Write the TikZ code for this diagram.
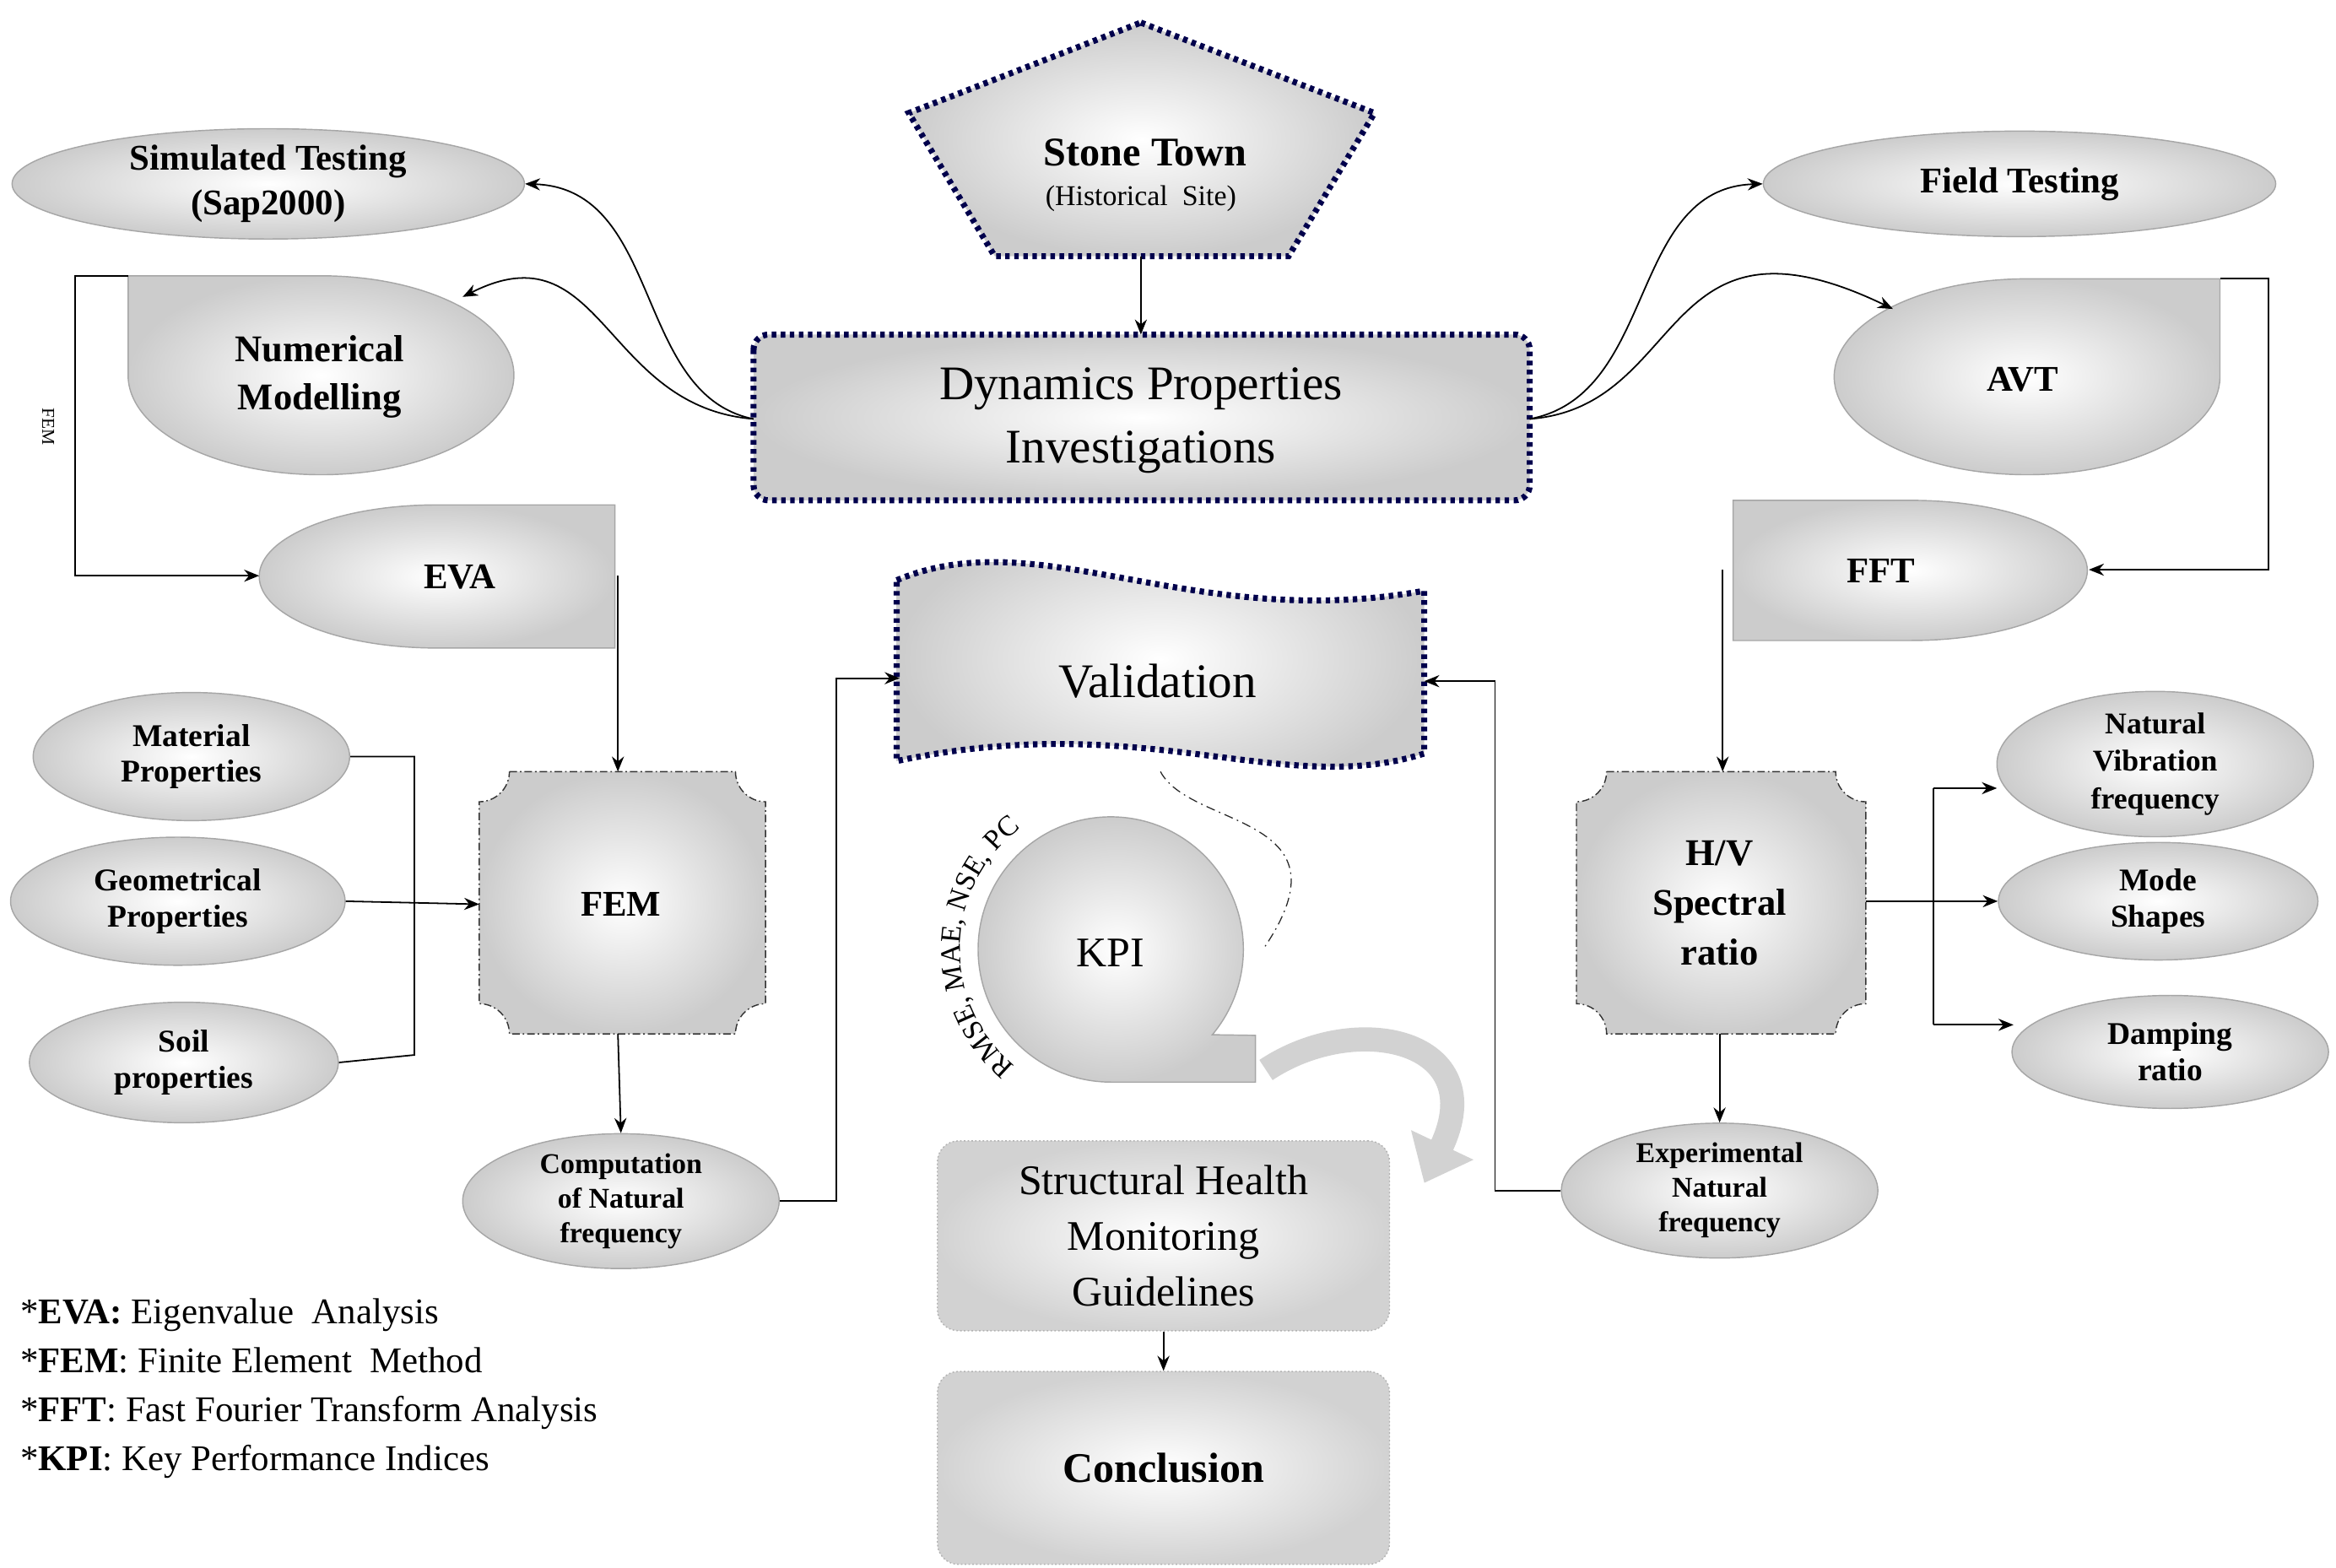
\documentclass[tikz,border=0pt]{standalone}
\usepackage{fontspec}
\setmainfont{Liberation Serif}
\usetikzlibrary{shapes.geometric,arrows.meta,decorations.text}
\newcommand\fs[2]{\fontsize{#1}{#2}\selectfont}
\newcommand\cornbox[5]{% x1 y1 x2 y2 r
 \path[cbox] (#1+#5,#2) -- (#3-#5,#2) arc[start angle=180,end angle=90,radius=#5]
  -- (#3,#4-#5) arc[start angle=-90,end angle=-180,radius=#5]
  -- (#1+#5,#4) arc[start angle=0,end angle=-90,radius=#5]
  -- (#1,#2+#5) arc[start angle=90,end angle=0,radius=#5] -- cycle;}
\begin{document}
\begin{tikzpicture}[x=1pt,y=-1pt,
 gfill/.style={inner color=white,outer color=gray!40},
 ell/.style={ellipse,draw=gray!70,line width=0.8pt,gfill,font=\bfseries\fs{21}{24},align=center,inner sep=0pt},
 cbox/.style={draw=black!80,dash pattern=on 5pt off 2pt on 1pt off 2pt,line width=0.8pt,gfill},
 dotb/.style={draw=blue!30!black,line width=4pt,dash pattern=on 3pt off 3pt},
 gbox/.style={rounded corners=14pt,draw=gray!60,dash pattern=on 1pt off 1.5pt,line width=0.8pt,inner color=white,outer color=gray!35},
 arr/.style={-{Stealth[length=10pt,width=8pt]},line width=1pt},
 ln/.style={line width=1pt}]
\useasboundingbox (0,0) rectangle (1550,1040);

% Stone Town pentagon
\path[dotb,gfill] (757,15) -- (912,75) -- (855,170) -- (660,170) -- (603,75) -- cycle;
\node[font=\bfseries\fs{27}{30}] (st) at (760,101) {Stone Town};
\node[font=\fs{19}{22}] (st2) at (757,132) {(Historical\ \ Site)};
\coordinate (stb) at (757,170);
% Dynamics
\path[dotb,rounded corners=10pt,gfill] (500,222) rectangle (1015,332);
\node[align=center,font=\fs{32}{42}] (dyn) at (757,279) {Dynamics Properties\\Investigations};
\coordinate (dynt) at (757,222);
\coordinate (dynl) at (500,278);
\coordinate (dynr) at (1015,278);
\draw[arr] (stb) -- (dynt);

% top ellipses
\node[ell,minimum width=340pt,minimum height=70pt,font=\bfseries\fs{24}{30}] (sim) at (178,122) {Simulated Testing\\(Sap2000)};
\node[ell,minimum width=340pt,minimum height=70pt,font=\bfseries\fs{24}{30}] (field) at (1340,122) {Field Testing};

% Numerical Modelling
\path[gfill,draw=gray!70,line width=0.8pt] (85,183) -- (213,183) arc[start angle=-90,end angle=180,x radius=128,y radius=66] -- cycle;
\node[font=\bfseries\fs{25}{32},align=center] (num) at (212,250) {Numerical\\Modelling};
% AVT
\path[gfill,draw=gray!70,line width=0.8pt] (1473,185) -- (1345,185) arc[start angle=-90,end angle=-360,x radius=128,y radius=65] -- cycle;
\node[font=\bfseries\fs{24}{28}] (avt) at (1342,252) {AVT};
% EVA
\path[gfill,draw=gray!70,line width=0.8pt] (408,335) -- (290,335) arc[start angle=-90,end angle=-270,x radius=118,y radius=47.5] -- (408,430) -- cycle;
\node[font=\bfseries\fs{24}{28}] (eva) at (305,383) {EVA};
% FFT
\path[gfill,draw=gray!70,line width=0.8pt] (1150,332) -- (1268,332) arc[start angle=-90,end angle=90,x radius=117,y radius=46.5] -- (1150,425) -- cycle;
\node[font=\bfseries\fs{24}{28}] (fft) at (1248,379) {FFT};

% Validation
\path[dotb,gfill] (595,385) .. controls (690,345) and (790,420) .. (945,392) -- (945,500) .. controls (850,530) and (760,470) .. (595,505) -- cycle;
\node[font=\fs{32}{36}] (val) at (768,452) {Validation};
\coordinate (vall) at (597,450);
\coordinate (valr) at (945,452);
\coordinate (valb) at (770,512);

% FEM and H/V
\cornbox{318}{512}{508}{686}{20}
\node[font=\bfseries\fs{24}{28}] (fem) at (412,600) {FEM};
\cornbox{1046}{512}{1238}{686}{20}
\node[font=\bfseries\fs{25}{33},align=center] (hv) at (1141,599) {H/V\\Spectral\\ratio};

% left ellipses
\node[ell,minimum width=210pt,minimum height=85pt] (mat) at (127,502) {Material\\Properties};
\node[ell,minimum width=222pt,minimum height=85pt] (geo) at (118,598) {Geometrical\\Properties};
\node[ell,minimum width=205pt,minimum height=80pt] (soil) at (122,705) {Soil\\properties};
% right ellipses
\node[ell,minimum width=210pt,minimum height=85pt,font=\bfseries\fs{20}{25}] (nvf) at (1430,507) {Natural\\Vibration\\frequency};
\node[ell,minimum width=212pt,minimum height=78pt] (mode) at (1432,598) {Mode\\Shapes};
\node[ell,minimum width=210pt,minimum height=75pt] (damp) at (1440,698) {Damping\\ratio};
% bottom ellipses
\node[ell,minimum width=210pt,minimum height=85pt,font=\bfseries\fs{19}{23}] (comp) at (412,797) {Computation\\of Natural\\frequency};
\node[ell,minimum width=210pt,minimum height=85pt,font=\bfseries\fs{19}{23}] (exp) at (1141,790) {Experimental\\Natural\\frequency};

% KPI
\path[gfill,draw=gray!70,line width=0.8pt] (737,718) arc[start angle=90,end angle=400,radius=88] -- (833,687) -- (833,718) -- cycle;
\node[font=\fs{28}{30}] (kpi) at (737,632) {KPI};
\path[decorate,decoration={text along path,text align=center,text={|\fs{19}{20}|RMSE, MAE, NSE, PC}}] (737,630) ++(118:100) arc[start angle=118,end angle=245,radius=100];
\draw[dash pattern=on 6pt off 3pt on 1pt off 3pt,line width=0.7pt,gray!30!black] (valb) .. controls (790,550) and (900,540) .. (838,630);

% SHM and Conclusion
\node[gbox,minimum width=300pt,minimum height=126pt,align=center,font=\fs{28}{37}] (shm) at (772,820) {Structural Health\\Monitoring\\Guidelines};
\node[gbox,minimum width=300pt,minimum height=128pt,font=\bfseries\fs{28}{30}] (conc) at (772,974) {Conclusion};
\draw[arr] (shm.south) -- (conc.north);
% curved block arrow
\draw[gray!35,line width=16pt,-{Triangle[width=44pt,length=28pt]}] (840,710) .. controls (900,670) and (990,690) .. (945,785);

% connectors
\draw[arr] (dynl) .. controls (420,262) and (440,125) .. (sim.east);
\draw[arr] (dynl) .. controls (400,270) and (400,150) .. (307,197);
\draw[arr] (dynr) .. controls (1100,262) and (1080,125) .. (field.west);
\draw[arr] (dynr) .. controls (1120,270) and (1100,130) .. (1256,205);
\draw[ln,-{Stealth[length=10pt,width=8pt]}] (85,183) -- (50,183) -- (50,382) -- (172,382);
\node[rotate=-90,font=\fs{12}{14}] (femlab) at (32,283) {FEM};
\draw[arr] (410,382) -- (410,512);
\draw[ln] (mat.east) -- (275,502) -- (275,700) -- (soil.east);
\draw[arr] (geo.east) -- (318,600);
\draw[arr] (410,686) -- (comp.north);
\draw[arr] (comp.east) -- (555,797) -- (555,450) -- (vall);
\draw[arr] (1473,185) -- (1505,185) -- (1505,378) -- (1386,378);
\draw[arr] (1143,378) -- (1143,512);
\draw[arr] (1141,686) -- (exp.north);
\draw[arr] (exp.west) -- (992,790) -- (992,452) -- (valr);
\draw[ln] (1238,598) -- (1283,598);
\draw[ln] (1283,523) -- (1283,680);
\draw[arr] (1283,523) -- (1325,523);
\draw[arr] (1283,598) -- (mode.west);
\draw[arr] (1283,680) -- (1336,680);

% legend
\node[anchor=north west,align=left,font=\fs{24}{32.5}] (leg) at (10,858) {*\textbf{EVA:} Eigenvalue\ \ Analysis\\*\textbf{FEM}: Finite Element\ \ Method\\*\textbf{FFT}: Fast Fourier Transform Analysis\\*\textbf{KPI}: Key Performance Indices};
\end{tikzpicture}
\end{document}
